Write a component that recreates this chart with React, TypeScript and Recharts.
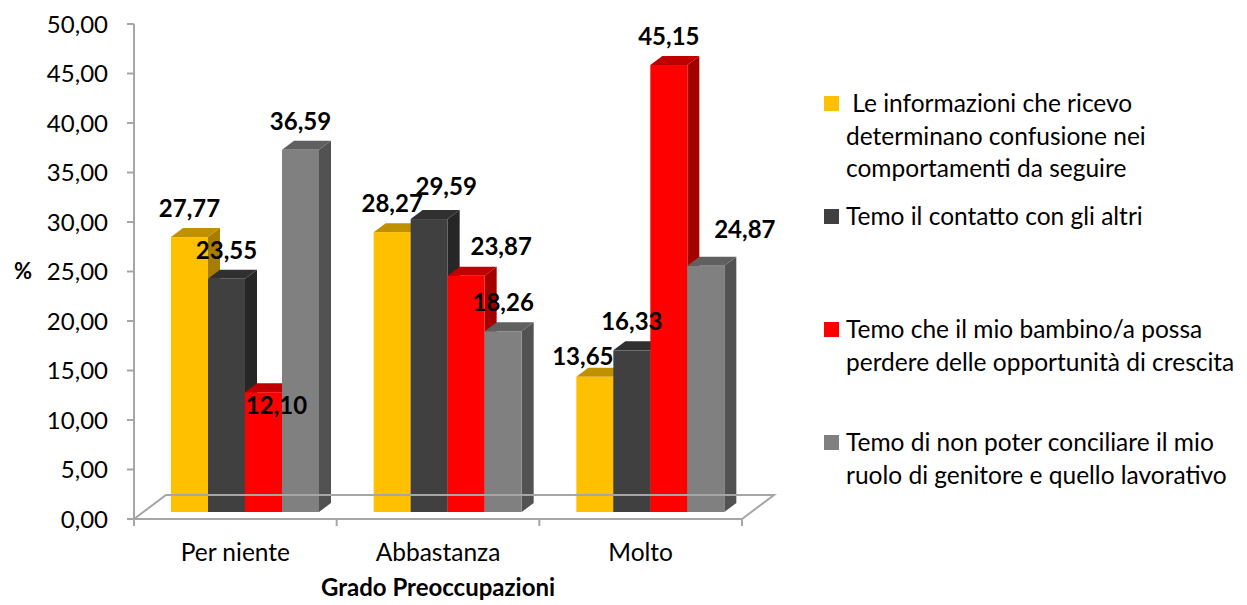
import { BarChart, Bar, XAxis, YAxis, Legend, LabelList, ReferenceLine } from 'recharts';

// categories on the x axis
const categories = ['Per niente', 'Abbastanza', 'Molto'];

// one array per series, same order as categories
const informazioni = [27.77, 28.27, 13.65];
const contatto = [23.55, 29.59, 16.33];
const opportunita = [12.1, 23.87, 45.15];
const conciliare = [36.59, 18.26, 24.87];

const seriesNames = [
  ' Le informazioni che ricevo determinano confusione nei comportamenti da seguire',
  'Temo il contatto con gli altri',
  'Temo che il mio bambino/a possa perdere delle opportunità di crescita',
  'Temo di non poter conciliare il mio ruolo di genitore e quello lavorativo',
];

const yTicks = [0, 5, 10, 15, 20, 25, 30, 35, 40, 45, 50];

// layout
const W = 1247;
const H = 605;
const PLOT_LEFT = 134;
const PLOT_RIGHT = 742;
const PLOT_TOP = 24;
const PLOT_BOTTOM = 519;
const BAND = (PLOT_RIGHT - PLOT_LEFT) / categories.length;
const FONT = 'Lato, "Open Sans", sans-serif';
const AXIS_GRAY = '#A6A6A6';
const SHIFT = { x: 10, y: -7 }; // bars sit a bit back on the floor
const DEPTH = { x: 12, y: -9 }; // bar thickness
const FLOOR = { x: 32, y: -24 };

// Excel moved a few labels by hand, [series][category] in px
const labelNudge = [
  [[0, 0], [0, 0], [-12, 8]],
  [[0, 0], [17, -4], [0, 0]],
  [[13, 42], [35, -1], [0, 0]],
  [[0, 0], [0, 0], [39, -8]],
];

const series = [
  { key: 's0', name: seriesNames[0], values: informazioni, front: '#FFC000', top: '#BF9000', side: '#A67D00' },
  { key: 's1', name: seriesNames[1], values: contatto, front: '#404040', top: '#303030', side: '#262626' },
  { key: 's2', name: seriesNames[2], values: opportunita, front: '#FF0000', top: '#C00000', side: '#A50000' },
  { key: 's3', name: seriesNames[3], values: conciliare, front: '#808080', top: '#606060', side: '#525252' },
];

const rows = categories.map((cat, i) => {
  const row: Record<string, string | number> = { cat };
  series.forEach((s) => (row[s.key] = s.values[i]));
  return row;
});

const fmt = (v: number) => v.toFixed(2).replace('.', ',');

function Bar3D(props: any) {
  const { x, y, width, height, c } = props;
  if (!height) return null;
  const fx = x + SHIFT.x;
  const fy = y + SHIFT.y;
  const dx = DEPTH.x;
  const dy = DEPTH.y;
  return (
    <g>
      <polygon
        points={`${fx + width},${fy} ${fx + width + dx},${fy + dy} ${fx + width + dx},${fy + height + dy} ${fx + width},${fy + height}`}
        fill={c.side}
      />
      <polygon
        points={`${fx},${fy} ${fx + dx},${fy + dy} ${fx + width + dx},${fy + dy} ${fx + width},${fy}`}
        fill={c.top}
      />
      <rect x={fx} y={fy} width={width} height={height} fill={c.front} />
    </g>
  );
}

function Floor(props: any) {
  const { x1, y1, x2 } = props;
  return (
    <polygon
      points={`${x1},${y1} ${x2},${y1} ${x2 + FLOOR.x},${y1 + FLOOR.y} ${x1 + FLOOR.x},${y1 + FLOOR.y}`}
      fill="none"
      stroke={AXIS_GRAY}
      strokeWidth={2}
    />
  );
}

function CategoryTick(props: any) {
  const { x, payload, index } = props;
  const left = x - BAND / 2;
  return (
    <g>
      <line x1={left} y1={PLOT_BOTTOM} x2={left} y2={PLOT_BOTTOM + 7} stroke={AXIS_GRAY} strokeWidth={2} />
      {index === categories.length - 1 && (
        <line x1={x + BAND / 2} y1={PLOT_BOTTOM} x2={x + BAND / 2} y2={PLOT_BOTTOM + 7} stroke={AXIS_GRAY} strokeWidth={2} />
      )}
      <text x={x} y={PLOT_BOTTOM + 42} textAnchor="middle" fontFamily={FONT} fontSize={24.5} fill="#000">
        {payload.value}
      </text>
    </g>
  );
}

// all value labels drawn from the last series so they stay above every bar
function ValueLabels(props: any) {
  const vb = props.viewBox ?? props;
  const { x, y, width, height } = vb;
  const last = series.length - 1;
  const idx = props.index ?? Math.floor((x - PLOT_LEFT) / BAND);
  const base = y + height;
  const perUnit = height / series[last].values[idx];
  return (
    <g>
      {series.map((s, si) => {
        const v = s.values[idx];
        const cx = x - (last - si) * width + width / 2 + SHIFT.x;
        const top = base - v * perUnit + SHIFT.y;
        const [ndx, ndy] = labelNudge[si][idx];
        return (
          <text
            key={s.key}
            x={cx + ndx}
            y={top - 20 + ndy}
            textAnchor="middle"
            fontFamily={FONT}
            fontWeight={700}
            fontSize={24}
            fill="#000"
          >
            {fmt(v)}
          </text>
        );
      })}
    </g>
  );
}

function LegendBox() {
  return (
    <div style={{ fontFamily: FONT, fontSize: 24.5, color: '#000' }}>
      {series.map((s) => (
        <div key={s.key} style={{ position: 'relative', height: 113, paddingLeft: 22 }}>
          <span
            style={{ position: 'absolute', left: 0, top: 9, width: 15, height: 15, background: s.front }}
          />
          <div style={{ width: 405, lineHeight: '32.5px', whiteSpace: 'pre-wrap' }}>{s.name}</div>
        </div>
      ))}
    </div>
  );
}

export default function App() {
  return (
    <div style={{ width: W, height: H, background: '#fff' }}>
      <style>{'body{margin:0}'}</style>
      <BarChart
        width={W}
        height={H}
        data={rows}
        margin={{ top: PLOT_TOP, right: W - PLOT_RIGHT, bottom: 0, left: 0 }}
        barGap={0}
        barSize={37}
      >
        <ReferenceLine y={0} shape={(p: any) => <Floor {...p} />} />
        <XAxis
          dataKey="cat"
          height={H - PLOT_BOTTOM}
          axisLine={{ stroke: AXIS_GRAY, strokeWidth: 2 }}
          tickLine={false}
          tick={<CategoryTick />}
          interval={0}
          label={{
            value: 'Grado Preoccupazioni',
            position: 'insideBottom',
            offset: 9,
            fill: '#000',
            fontFamily: FONT,
            fontWeight: 700,
            fontSize: 24,
          }}
        />
        <YAxis
          width={PLOT_LEFT}
          domain={[0, 50]}
          ticks={yTicks}
          interval={0}
          tickFormatter={fmt}
          axisLine={{ stroke: AXIS_GRAY, strokeWidth: 2 }}
          tickLine={{ stroke: AXIS_GRAY, strokeWidth: 2 }}
          tickSize={7}
          tickMargin={19}
          tick={{ fill: '#000', fontFamily: FONT, fontSize: 24 }}
          label={{
            value: '%',
            position: 'insideLeft',
            offset: 14,
            fill: '#000',
            fontFamily: FONT,
            fontWeight: 700,
            fontSize: 22,
          }}
        />
        <Legend
          layout="vertical"
          align="center"
          verticalAlign="middle"
          content={() => <LegendBox />}
          wrapperStyle={{ left: 824, top: 87, width: 430 }}
        />
        {series.map((s, i) => (
          <Bar
            key={s.key}
            dataKey={s.key}
            name={s.name}
            fill={s.front}
            isAnimationActive={false}
            shape={(p: any) => <Bar3D {...p} c={s} />}
          >
            {i === series.length - 1 && <LabelList dataKey={s.key} content={(p: any) => <ValueLabels {...p} />} />}
          </Bar>
        ))}
      </BarChart>
    </div>
  );
}
